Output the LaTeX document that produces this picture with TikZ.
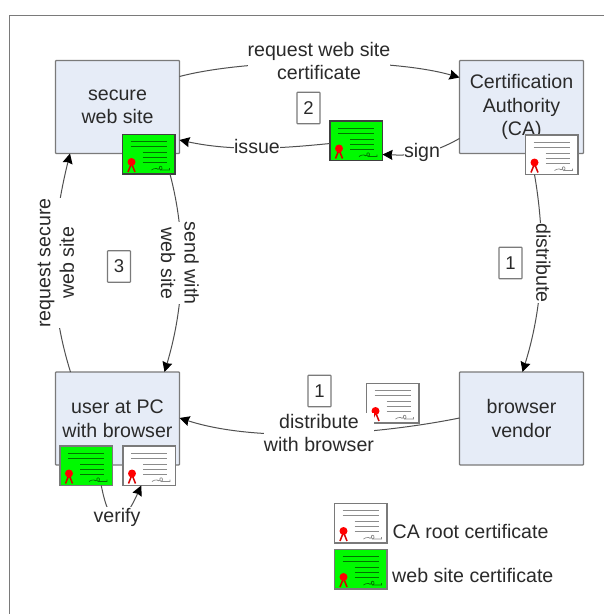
\documentclass[tikz,border=0pt]{standalone}
\usepackage{fontspec}
\setmainfont{Liberation Sans}
\usetikzlibrary{arrows.meta}
\definecolor{boxfill}{HTML}{E6ECF7}
\definecolor{edgegray}{HTML}{7A7A7A}
\definecolor{linkgray}{HTML}{505050}
\definecolor{inktext}{HTML}{2A2A2A}
\definecolor{certgreen}{HTML}{00FA00}
\tikzset{
  party/.style={draw=edgegray,line width=1.3pt,fill=boxfill,rounded corners=0.8pt,minimum width=124pt,minimum height=93pt,inner sep=0pt,outer sep=0pt,anchor=north west,align=center,text=inktext,font=\fontsize{19.6}{23.5}\selectfont},
  numbox/.style={draw=edgegray,line width=1.1pt,fill=white,rounded corners=0.6pt,minimum width=23pt,minimum height=31.5pt,inner sep=0pt,outer sep=0pt,text=inktext,font=\fontsize{18.5}{22}\selectfont},
  label/.style={fill=white,inner xsep=0pt,inner ysep=1pt,align=center,text=inktext,font=\fontsize{19.6}{23.5}\selectfont},
  legendtext/.style={anchor=west,inner sep=0pt,text=inktext,font=\fontsize{19.6}{23.5}\selectfont},
  link/.style={draw=linkgray,line width=1pt,-{Stealth[length=10pt,width=10pt,inset=1pt,color=black]}},
  certbox/.style={draw=#1,line width=1.2pt,minimum width=52.5pt,minimum height=39.5pt,inner sep=0pt,outer sep=0pt,anchor=north west},
}
\newcommand{\certnode}[6]{%
  \node[certbox=#6,fill=#4] (#1) at (#2,#3) {};
  \begin{scope}[shift={(#1.north west)},x=1pt,y=-1pt]
    \draw[#5,line width=0.9pt] (8,7)--(44,7) (8,12)--(44,12) (20,18)--(44,18) (20,23)--(44,23) (20,28)--(44,28);
    \draw[#5,line width=0.7pt] (29,35.5) .. controls (31,35) and (32,33) .. (34,34) .. controls (35,35) and (36,35) .. (37,34) .. controls (36,31) and (40,31) .. (39.5,34) .. controls (39.5,36) and (37,36) .. (37,34.5) (38,35.5)--(47,35.5)--(47,33.5);
    \draw[red!85!black,line width=1.5pt] (8.5,30)--(5.5,37.5) (9.5,30)--(12.5,37.5);
    \fill[red] (9,27.5) circle (4pt);
  \end{scope}
}
\begin{document}
\begin{tikzpicture}[x=1pt,y=-1pt]
\useasboundingbox (0,0) rectangle (604,614);
\fill[white] (0,0) rectangle (604,614);
\draw[edgegray,line width=1pt] (9.5,614) -- (9.5,15) -- (604,15);

\node[party] (site) at (55.5,60.5) {\raisebox{-1.5pt}{secure}\\\raisebox{-1.5pt}{web site}};
\node[party] (ca) at (459.5,60.5) {Certification\\Authority\\(CA)};
\node[party] (pc) at (55.5,372) {user at PC\\with browser};
\node[party] (vendor) at (459.5,372) {browser\\vendor};

\certnode{sitecert}{122.5}{134.5}{certgreen}{green!45!black}{black!75}
\certnode{midcert}{330}{121}{certgreen}{green!45!black}{black!75}
\certnode{caroot}{525.5}{135}{white}{black!45}{edgegray}
\certnode{vendorroot}{366.5}{383.5}{white}{black!45}{edgegray}
\certnode{pcsite}{60}{446}{certgreen}{green!45!black}{edgegray}
\certnode{pcroot}{123}{446}{white}{black!45}{edgegray}
\certnode{legendroot}{334.5}{503.5}{white}{black!45}{edgegray}
\certnode{legendsite}{334.5}{549.5}{certgreen}{green!45!black}{edgegray}

\node[numbox] (n2) at (308.5,108) {2};
\node[numbox] (n1a) at (510.5,263) {1};
\node[numbox] (n1b) at (319.5,391) {1};
\node[numbox] (n3) at (119,266.5) {3};

\draw[link] ([yshift=-16pt]site.north east) .. controls (250,58) and (392,58) .. ([yshift=-17pt]ca.north west);
\draw[link] ([yshift=-22.5pt]midcert.north west) .. controls (285,148) and (235,152) .. ([yshift=13.5pt]site.south east);
\draw[link] ([yshift=15pt]ca.south west) .. controls (435,152) and (420,156) .. ([yshift=6pt]midcert.south east);
\draw[link] ([xshift=9pt]caroot.south west) .. controls (545,235) and (545,300) .. ([xshift=63pt]vendor.north west);
\draw[link] ([yshift=-46pt]vendor.north west) .. controls (380,434) and (260,444) .. ([yshift=-46pt]pc.north east);
\draw[link] ([xshift=15pt]pc.north west) .. controls (48,300) and (50,235) .. ([xshift=14.5pt]site.south west);
\draw[link] ([xshift=-5pt]sitecert.south east) .. controls (186,235) and (186,300) .. ([xshift=-15pt]pc.north east);
\draw[link] ([xshift=15pt]pcsite.south) .. controls (110,530) and (122,528) .. ([xshift=-8pt]pcroot.south);

\node[label] (lreq) at (319,61) {request web site\\certificate};
\node[label] (lissue) at (257,146.5) {issue};
\node[label] (lsign) at (422,152) {sign};
\node[label,rotate=-90] (ldist) at (543.5,263) {distribute};
\node[label] (lwith) at (319,433) {distribute\\with browser};
\node[label,rotate=90] (lsecure) at (56,263) {request secure\\web site};
\node[label,rotate=-90] (lsend) at (180,263) {send with\\web site};
\node[label] (lverify) at (117,517) {verify};

\node[legendtext] (troot) at (392.5,531) {CA root certificate};
\node[legendtext] (tsite) at (392,575) {web site certificate};
\end{tikzpicture}
\end{document}
